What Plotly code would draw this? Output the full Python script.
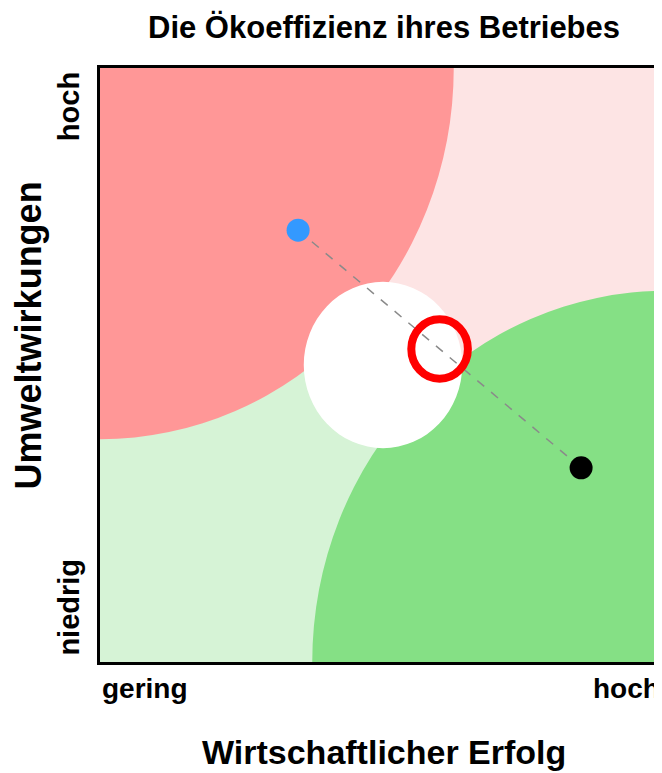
import plotly.graph_objects as go

# zones of the portfolio: centre (x, y) and radius in data units
zone_names = ["Ökoineffizient", "Ökoeffizient", "Neutral"]
zone_x = [0.0, 1.0, 0.5]
zone_y = [1.0, 0.0, 0.5]
zone_r = [0.625, 0.625, 0.14]
zone_colors = ["#ff9797", "#85e085", "#ffffff"]

# background halves (corner polygons)
bg_lower_x = [0, 1, 0]
bg_lower_y = [0, 0, 1]
bg_upper_x = [1, 1, 0]
bg_upper_y = [0, 1, 1]

# the two reference points and the position of the company
point_x = [0.35, 0.85]
point_y = [0.727, 0.327]
point_colors = ["#3399ff", "#000000"]
company_x = 0.60
company_y = 0.527
company_r = 0.05

x_ticks = ["gering", "hoch"]
y_ticks = ["niedrig", "hoch"]

FONT = "Liberation Sans, Arial, sans-serif"

fig = go.Figure()


def poly_path(xs, ys):
    return "M " + " L ".join(f"{a},{b}" for a, b in zip(xs, ys)) + " Z"


fig.add_shape(type="path", path=poly_path(bg_lower_x, bg_lower_y),
              fillcolor="#d6f3d6", line_width=0, layer="below")
fig.add_shape(type="path", path=poly_path(bg_upper_x, bg_upper_y),
              fillcolor="#fde4e4", line_width=0, layer="below")

for cx, cy, r, col in zip(zone_x, zone_y, zone_r, zone_colors):
    fig.add_shape(type="circle", x0=cx - r, x1=cx + r, y0=cy - r, y1=cy + r,
                  fillcolor=col, line_width=0, layer="below")

# dashed connection between the two points
fig.add_trace(go.Scatter(x=point_x, y=point_y, mode="lines",
                         line=dict(color="#8a8a8a", width=1.5, dash="dash"),
                         hoverinfo="skip"))
fig.add_trace(go.Scatter(x=point_x, y=point_y, mode="markers",
                         marker=dict(size=23, color=point_colors, line_width=0)))

# company marker (red ring)
fig.add_shape(type="circle",
              x0=company_x - company_r, x1=company_x + company_r,
              y0=company_y - company_r, y1=company_y + company_r,
              line=dict(color="#ff0000", width=8), fillcolor="rgba(0,0,0,0)")

fig.update_xaxes(range=[0, 1], showgrid=False, zeroline=False, showticklabels=False,
                 showline=True, linecolor="black", linewidth=3, mirror=True)
fig.update_yaxes(range=[0, 1], showgrid=False, zeroline=False, showticklabels=False,
                 showline=True, linecolor="black", linewidth=3)

xlab = dict(family=FONT, size=28, color="black", weight="bold")
ylab = dict(family=FONT, size=29, color="black", weight="bold")

# axis end labels
fig.add_annotation(x=0.0, y=-0.045, xref="paper", yref="paper", text=x_ticks[0],
                   showarrow=False, xanchor="left", yanchor="middle", font=xlab)
fig.add_annotation(x=0.993, y=-0.045, xref="paper", yref="paper", text=x_ticks[1],
                   showarrow=False, xanchor="right", yanchor="middle", font=xlab)
fig.add_annotation(x=-0.055, y=0.008, xref="paper", yref="paper", text=y_ticks[0],
                   textangle=-90, showarrow=False, xanchor="center", yanchor="bottom", font=ylab)
fig.add_annotation(x=-0.055, y=0.997, xref="paper", yref="paper", text=y_ticks[1],
                   textangle=-90, showarrow=False, xanchor="center", yanchor="top", font=ylab)

# titles
fig.add_annotation(x=0.502, y=1.069, xref="paper", yref="paper",
                   text="Die Ökoeffizienz ihres Betriebes", showarrow=False,
                   xanchor="center", yanchor="middle",
                   font=dict(family=FONT, size=31, color="black", weight="bold"))
fig.add_annotation(x=0.502, y=-0.152, xref="paper", yref="paper",
                   text="Wirtschaftlicher Erfolg", showarrow=False,
                   xanchor="center", yanchor="middle",
                   font=dict(family=FONT, size=34, color="black", weight="bold"))
fig.add_annotation(x=-0.127, y=0.55, xref="paper", yref="paper",
                   text="Umweltwirkungen", textangle=-90, showarrow=False,
                   xanchor="center", yanchor="middle",
                   font=dict(family=FONT, size=36, color="black", weight="bold"))

# the page adds an 8px body margin; the plot runs a little past the right window edge
fig.update_layout(
    width=658,
    height=765,
    margin=dict(l=92, r=0, t=60, b=111),
    plot_bgcolor="white",
    paper_bgcolor="white",
    showlegend=False,
)

fig.write_html("out.html")
